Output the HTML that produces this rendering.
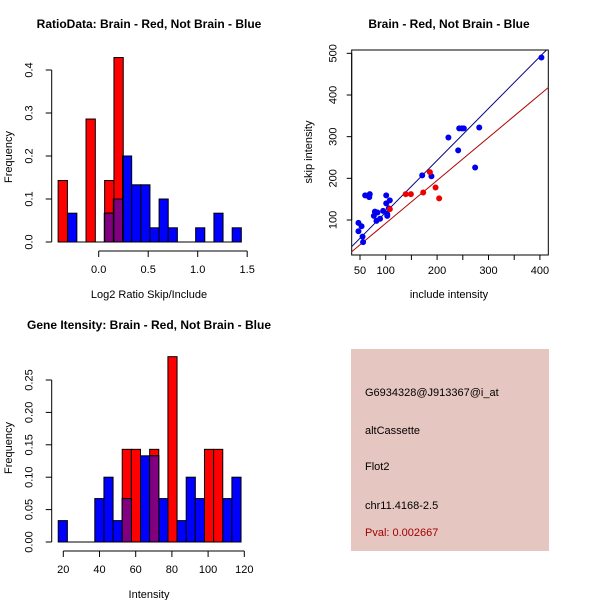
<!DOCTYPE html>
<html><head><meta charset="utf-8"><style>
body{margin:0;background:#fff}
svg{display:block;font-family:"Liberation Sans",sans-serif}
</style></head><body>
<svg id="c" width="600" height="600" xmlns="http://www.w3.org/2000/svg">
<g id="p1"></g>
<g id="p2"></g>
<g id="p3"></g>
<g id="p4">
<rect x="351" y="349" width="198" height="202" fill="#e6c6c0"/>
<text x="365" y="396" font-size="11">G6934328@J913367@i_at</text>
<text x="365" y="434" font-size="11">altCassette</text>
<text x="365" y="470" font-size="11">Flot2</text>
<text x="365" y="509" font-size="11">chr11.4168-2.5</text>
<text x="365" y="536" font-size="11" fill="#a00000">Pval: 0.002667</text>
</g>
</svg>
<script>
// ---- Plot 1 data ----
const p1RedStart = -0.41, p1RedWidth = 0.094;
const p1RedFreq = [0.143, 0, 0, 0.286, 0, 0.143, 0.429];
const p1BlueStart = -0.313, p1BlueWidth = 0.0923;
const p1BlueFreq = [0.067,0,0,0,0.067,0.1,0.2,0.133,0.133,0.033,0.1,0.033,0,0,0.033,0,0.067,0,0.033];
const p1XTicks = [0.0, 0.5, 1.0, 1.5];
const p1XLabels = ["0.0","0.5","1.0","1.5"];
const p1YTicks = [0, 0.1, 0.2, 0.3, 0.4];
const p1YLabels = ["0.0","0.1","0.2","0.3","0.4"];
// ---- Plot 2 data ----
const blueX = [403,243,248,252,282,222,241,274,171,189,60,69,68,101,101,108,79,84,106,95,77,89,82,103,103,47,53,47,55,56];
const blueY = [490,320,320,320,322,298,267,226,207,205,159,162,155,159,140,147,120,118,128,122,110,103,98,114,110,93,85,73,60,47];
const redX = [186,139,149,173,197,204,108];
const redY = [215,162,162,166,178,152,126];
const blueFit = [1.245, -6];
const redFit = [1.03, -11];
const p2XTicks = [50,100,150,200,250,300,350,400];
const p2XLabels = ["50","100","","200","","300","","400"];
const p2YTicks = [100,200,300,400,500];
const p2YLabels = ["100","200","300","400","500"];
// ---- Plot 3 data ----
const p3Start = 17.2, p3Width = 5.05;
const p3BlueFreq = [0.033,0,0,0,0.067,0.1,0.033,0.067,0,0.133,0.133,0.067,0,0.033,0.1,0.067,0,0,0.067,0.1];
const p3RedFreq = [0,0,0,0,0,0,0,0.143,0.143,0,0.143,0,0.286,0,0,0,0.143,0.143,0,0];
const p3XTicks = [20,40,60,80,100,120];
const p3XLabels = ["20","40","60","80","100","120"];
const p3YTicks = [0,0.05,0.1,0.15,0.2,0.25];
const p3YLabels = ["0.00","0.05","0.10","0.15","0.20","0.25"];

const NS="http://www.w3.org/2000/svg";
function mk(parent,tag,attrs){const e=document.createElementNS(NS,tag);for(const k in attrs)e.setAttribute(k,attrs[k]);parent.appendChild(e);return e;}

function axes(g,xs,ys,xT,xL,yT,yL,axY,axX,xTitle,yTitle,title,titleX,yLab,o){
  let l=mk(g,'line',{x1:xs(xT[0]),x2:xs(xT[xT.length-1]),y1:axY,y2:axY,stroke:'#000'});
  
  
  xT.forEach((v,i)=>{
    const t=mk(g,'line',{x1:xs(v),x2:xs(v),y1:axY,y2:axY+o.tick,stroke:'#000'});
    
    
    if(xL[i]){const tx=mk(g,'text',{x:xs(v),y:axY+o.xl,'font-size':11,'text-anchor':'middle'});tx.textContent=xL[i];
    
    }
  });
  l=mk(g,'line',{x1:axX,x2:axX,y1:ys(yT[0]),y2:ys(yT[yT.length-1]),stroke:'#000'});
  
  
  yT.forEach((v,i)=>{
    const t=mk(g,'line',{x1:axX-o.tick,x2:axX,y1:ys(v),y2:ys(v),stroke:'#000'});
    
    
    const tx=mk(g,'text',{x:0,y:0,'font-size':11,'text-anchor':'middle',transform:`translate(${axX-o.yl},${ys(v)}) rotate(-90)`});tx.textContent=yL[i];
    
    
  });
  let t=mk(g,'text',{x:titleX,y:axY+o.xt,'font-size':11,'text-anchor':'middle'});t.textContent=xTitle;
  
  
  t=mk(g,'text',{x:0,y:0,'font-size':11,'text-anchor':'middle',transform:`translate(${yLab[0]},${yLab[1]}) rotate(-90)`});t.textContent=yTitle;
  
  
  t=mk(g,'text',{x:title[1],y:title[2],'font-size':12,'font-weight':'bold','text-anchor':'middle'});t.textContent=title[0];
  
  
}

function bars(g,xs,ys,start,w,freq,fill,name){
  const out=[];
  freq.forEach((f,i)=>{
    const a=start+i*w,b=a+w;out.push([a,b,f]);
    if(f<=0)return;
    const r=mk(g,'rect',{x:xs(a),y:ys(f),width:xs(b)-xs(a),height:ys(0)-ys(f),fill:fill,stroke:'#000','stroke-width':1});
    
    
  });
  return out;
}
function overlap(g,xs,ys,A,B){
  A.forEach(a=>B.forEach(b=>{
    const x0=Math.max(a[0],b[0]),x1=Math.min(a[1],b[1]),h=Math.min(a[2],b[2]);
    if(x1-x0>1e-6&&h>0){
      const r=mk(g,'rect',{x:xs(x0),y:ys(h),width:xs(x1)-xs(x0),height:ys(0)-ys(h),fill:'#800080',stroke:'#000','stroke-width':1});
      
      
    }
  }));
}
const histOff={tick:6,xl:22,yl:19,xt:47};

// Plot 1
(function(){
  const g=document.getElementById('p1');
  const xs=v=>98.7+v*99, ys=v=>242-v*430;
  const R=bars(g,xs,ys,p1RedStart,p1RedWidth,p1RedFreq,'#ff0000','brain-bar');
  const B=bars(g,xs,ys,p1BlueStart,p1BlueWidth,p1BlueFreq,'#0000ff','not-brain-bar');
  overlap(g,xs,ys,R,B);
  mk(g,'line',{x1:xs(p1RedStart),x2:xs(p1BlueStart+p1BlueFreq.length*p1BlueWidth),y1:242,y2:242,stroke:'#000'});
  axes(g,xs,ys,p1XTicks,p1XLabels,p1YTicks,p1YLabels,251,51.7,'Log2 Ratio Skip/Include','Frequency',['RatioData: Brain - Red, Not Brain - Blue',149,28],149,[12,157],histOff);
})();
// Plot 2
(function(){
  const g=document.getElementById('p2');
  const xs=v=>360+(v-50)*0.514, ys=v=>220-(v-100)*0.4167;
  const box=mk(g,'rect',{x:351.7,y:50,width:196.6,height:205,fill:'none',stroke:'#000'});
  
  
  const clip=mk(g,'clipPath',{id:'cp2'});mk(clip,'rect',{x:351.7,y:50,width:196.6,height:205});
  const lg=mk(g,'g',{'clip-path':'url(#cp2)'});
  [[blueFit,'#000080','blue-fit-line'],[redFit,'#b00000','red-fit-line']].forEach(([f,c,n])=>{
    const x0=20,x1=440;
    const l=mk(lg,'line',{x1:xs(x0),y1:ys(f[0]*x0+f[1]),x2:xs(x1),y2:ys(f[0]*x1+f[1]),stroke:c,'stroke-width':1});
    
    
  });
  blueX.forEach((x,i)=>{const c=mk(g,'circle',{cx:xs(x),cy:ys(blueY[i]),r:3,fill:'#0000ee'});
    
    });
  redX.forEach((x,i)=>{const c=mk(g,'circle',{cx:xs(x),cy:ys(redY[i]),r:3,fill:'#ee0000'});
    
    });
  axes(g,xs,ys,p2XTicks,p2XLabels,p2YTicks,p2YLabels,255,351.7,'include intensity','skip intensity',['Brain - Red, Not Brain - Blue',449,28],449,[312,152],{tick:5,xl:19,yl:15,xt:43});
})();
// Plot 3
(function(){
  const g=document.getElementById('p3');
  const xs=v=>63.3+(v-20)*1.81, ys=v=>542-v*648;
  const R=bars(g,xs,ys,p3Start,p3Width,p3RedFreq,'#ff0000','brain-bar');
  const B=bars(g,xs,ys,p3Start,p3Width,p3BlueFreq,'#0000ff','not-brain-bar');
  overlap(g,xs,ys,R,B);
  mk(g,'line',{x1:xs(p3Start),x2:xs(p3Start+p3BlueFreq.length*p3Width),y1:542,y2:542,stroke:'#000'});
  axes(g,xs,ys,p3XTicks,p3XLabels,p3YTicks,p3YLabels,551,51.7,'Intensity','Frequency',['Gene Itensity: Brain - Red, Not Brain - Blue',149,329],149,[12,448],histOff);
})();
</script>
</body></html>
